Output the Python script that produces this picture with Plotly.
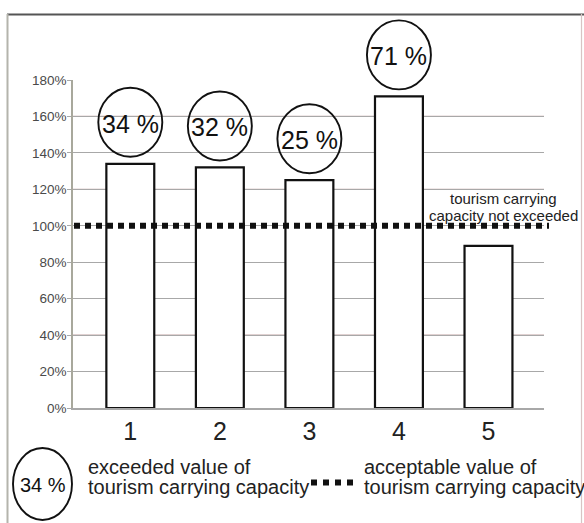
import plotly.graph_objects as go

# ---- data ----
categories = [1, 2, 3, 4, 5]
values = [134, 132, 125, 171, 89]          # % of tourism carrying capacity
exceeded_labels = ["34 %", "32 %", "25 %", "71 %", None]
acceptable_level = 100
y_tick_vals = [0, 20, 40, 60, 80, 100, 120, 140, 160, 180]
y_tick_text = [f"{v}%" for v in y_tick_vals]
rosy_grid = [40, 120, 160]
note_lines = ["tourism carrying", "capacity not exceeded"]
legend_circle_label = "34 %"
legend_left_lines = ["exceeded value of", "tourism carrying capacity"]
legend_right_lines = ["acceptable value of", "tourism carrying capacity"]

W, H = 584, 523
L, R, T, B = 73, 40, 80, 115
PW, PH = W - L - R, H - T - B
FONT = "Liberation Sans, Arial, sans-serif"
Y_RANGE = [0, 180]


def px(x):
    return (x - L) / PW


def py(y):
    return (H - B - y) / PH


fig = go.Figure()
fig.add_trace(go.Bar(
    x=categories, y=values, width=0.535,
    marker=dict(color="white", line=dict(color="#111111", width=2.2)),
    hoverinfo="skip", showlegend=False,
))

shapes = []
annotations = []

# rosy gridlines
for g in rosy_grid:
    shapes.append(dict(type="line", xref="paper", yref="y", x0=0, x1=1, y0=g, y1=g,
                       line=dict(color="#c2a4a4", width=1.3), layer="between"))

# acceptable level dotted line
shapes.append(dict(type="line", xref="paper", yref="y", x0=px(74), x1=px(549),
                   y0=acceptable_level, y1=acceptable_level,
                   line=dict(color="#111111", width=6, dash="6px,5px"), layer="above"))

# circles with exceeded values (y anchored in paper units so they are not clipped)
for c, v, lab in zip(categories, values, exceeded_labels):
    if lab is None:
        continue
    yfrac = (v - Y_RANGE[0]) / (Y_RANGE[1] - Y_RANGE[0])
    shapes.append(dict(type="circle", xref="x", yref="paper", xsizemode="pixel", ysizemode="pixel",
                       xanchor=c, yanchor=yfrac, x0=-32, x1=32, y0=7, y1=76,
                       line=dict(color="#111111", width=1.9)))
    annotations.append(dict(x=c, y=v, xref="x", yref="y", text=lab, showarrow=False,
                            yshift=40, font=dict(family=FONT, size=25, color="#111111")))

# note text
for i, t in enumerate(note_lines):
    annotations.append(dict(x=px(503), y=py(198 + 17 * i), xref="paper", yref="paper",
                            text=t, showarrow=False, xanchor="center", yanchor="middle",
                            font=dict(family=FONT, size=15, color="#222222")))

# frame
shapes.append(dict(type="line", xref="paper", yref="paper", x0=px(7), x1=px(584),
                   y0=py(14.5), y1=py(14.5), line=dict(color="#555555", width=2)))
shapes.append(dict(type="line", xref="paper", yref="paper", x0=px(7.5), x1=px(7.5),
                   y0=py(14), y1=py(530), line=dict(color="#b4b4ac", width=2)))
shapes.append(dict(type="line", xref="paper", yref="paper", x0=px(581.5), x1=px(581.5),
                   y0=py(14), y1=py(530), line=dict(color="#d8c4c4", width=1.2)))

# legend: circle
shapes.append(dict(type="circle", xref="paper", yref="paper", x0=px(13), x1=px(72),
                   y0=py(520), y1=py(448), line=dict(color="#111111", width=1.9)))
annotations.append(dict(x=px(43), y=py(485), xref="paper", yref="paper", text=legend_circle_label,
                        showarrow=False, xanchor="center", yanchor="middle",
                        font=dict(family=FONT, size=20, color="#111111")))
for i, t in enumerate(legend_left_lines):
    annotations.append(dict(x=px(86), y=py(467 + 20 * i), xref="paper", yref="paper", text=t,
                            showarrow=False, xanchor="left", yanchor="middle",
                            font=dict(family=FONT, size=20, color="#222222")))
# legend: dotted
shapes.append(dict(type="line", xref="paper", yref="paper", x0=px(311), x1=px(358),
                   y0=py(482.5), y1=py(482.5),
                   line=dict(color="#111111", width=6, dash="6px,6px")))
for i, t in enumerate(legend_right_lines):
    annotations.append(dict(x=px(362), y=py(467 + 20 * i), xref="paper", yref="paper", text=t,
                            showarrow=False, xanchor="left", yanchor="middle",
                            font=dict(family=FONT, size=20, color="#222222")))

fig.update_layout(
    width=W, height=H,
    margin=dict(l=L, r=R, t=T, b=B, pad=0),
    paper_bgcolor="white", plot_bgcolor="white",
    shapes=shapes, annotations=annotations,
    font=dict(family=FONT),
    xaxis=dict(range=[0.36, 5.62], tickvals=categories, ticktext=[str(c) for c in categories],
               showgrid=False, zeroline=False,
               showline=True, linecolor="#a8a8a8", linewidth=1.5,
               ticks="", tickfont=dict(family=FONT, size=25, color="#222222"),
               ticklabelstandoff=0),
    yaxis=dict(range=Y_RANGE, tickvals=y_tick_vals, ticktext=y_tick_text,
               showgrid=True, gridcolor="#a8a8a8", gridwidth=1.3, zeroline=False,
               showline=True, linecolor="#a8a89c", linewidth=1.5,
               ticks="outside", ticklen=4, tickcolor="#a8a8a8",
               tickfont=dict(family=FONT, size=13.5, color="#4a4a4a"),
               ticklabelstandoff=-2),
)

fig.write_html("out.html", config={"displayModeBar": False},
               post_script="document.body.style.margin='0';document.body.style.overflow='hidden';")
